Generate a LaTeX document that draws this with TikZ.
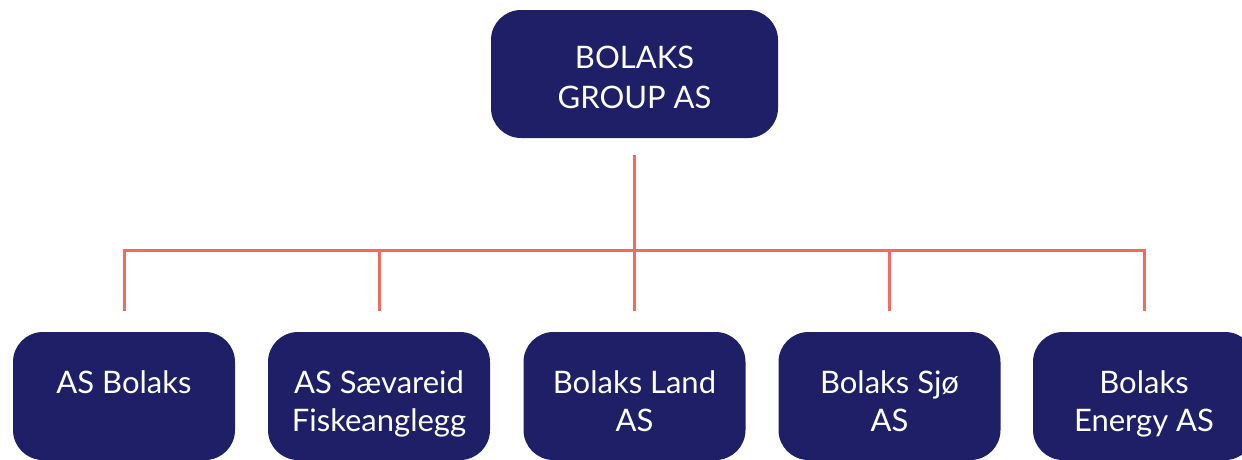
\documentclass[tikz,border=0pt]{standalone}
\usepackage{fontspec}
\setmainfont{Lato}
\definecolor{boxblue}{HTML}{1E1F66}
\definecolor{linered}{HTML}{F46A5F}
\begin{document}
\begin{tikzpicture}[x=1pt,y=1pt,
  orgbox/.style={fill=boxblue,draw=none,rounded corners=30pt,minimum width=#1,minimum height=128pt,inner sep=0pt},
  orgbox/.default=222pt,
  orgtext/.style={text=white,font=\fontsize{31}{38}\selectfont,align=center,inner sep=0pt},
  conn/.style={draw=linered,line width=3pt}]
\useasboundingbox (0,0) rectangle (1242,-459);
% top box
\node[orgbox=287pt] (top) at (634.5,-74) {};
\node[orgtext,font=\fontsize{31}{40}\selectfont] (toptext) at ([yshift=-3pt]top.center) {BOLAKS\\GROUP AS};
% bottom boxes
\node[orgbox] (b1) at (124,-396) {};
\node[orgbox] (b2) at (379,-396) {};
\node[orgbox] (b3) at (634.5,-396) {};
\node[orgbox] (b4) at (889.5,-396) {};
\node[orgbox] (b5) at (1144,-396) {};
\node[orgtext,anchor=base] (t1) at ([yshift=-62pt]b1.north) {AS Bolaks};
\node[orgtext,anchor=base] (t2) at ([yshift=-100pt]b2.north) {AS Sævareid\\Fiskeanglegg};
\node[orgtext,anchor=base] (t3) at ([yshift=-100pt]b3.north) {Bolaks Land\\AS};
\node[orgtext,anchor=base] (t4) at ([yshift=-100pt]b4.north) {Bolaks Sjø\\AS};
\node[orgtext,anchor=base] (t5) at ([yshift=-100pt]b5.north) {Bolaks\\Energy AS};
% connectors
\coordinate (hub) at (634.5,-250);
\coordinate (topend) at ([yshift=-17pt]top.south);
\draw[conn] (topend) -- (hub);
\foreach \i in {1,...,5}{
  \coordinate (d\i) at ([yshift=21pt]b\i.north);
  \coordinate (h\i) at (d\i |- hub);
}
\draw[conn] ([xshift=-1.5pt]h1) -- ([xshift=1.5pt]h5);
\foreach \i in {1,...,5}{
  \draw[conn] (h\i) -- (d\i);
}
\end{tikzpicture}
\end{document}
